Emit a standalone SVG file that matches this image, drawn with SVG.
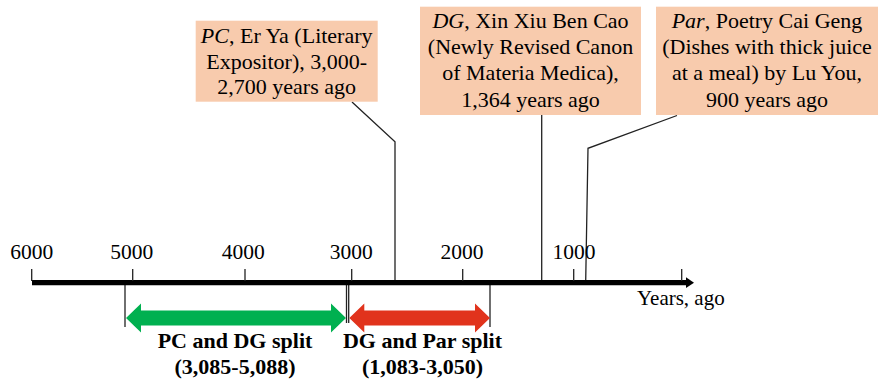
<svg xmlns="http://www.w3.org/2000/svg" width="878" height="383" viewBox="0 0 878 383">
<style>
text{font-family:"Liberation Serif","Times New Roman",serif;fill:#000}
.bt{font-size:22px;text-anchor:middle}
.ax{font-size:21.5px;text-anchor:middle}
.bl{font-size:22px;font-weight:bold;text-anchor:middle}
.box{fill:#F8CBAD}
.ln{stroke:#222;stroke-width:1.3;fill:none}
</style>
<rect width="878" height="383" fill="#fff"/>
<g id="connectors">
<polyline class="ln" points="352,102 395,141.7 395,281"/>
<line class="ln" x1="541.7" y1="115" x2="541.7" y2="281"/>
<polyline class="ln" points="677,115.5 588,148.3 585.7,281"/>
<line class="ln" x1="125" y1="283" x2="125" y2="327"/>
<line class="ln" x1="346.5" y1="283" x2="346.5" y2="323"/>
<line class="ln" x1="348.7" y1="283" x2="348.7" y2="323"/>
<line class="ln" x1="490" y1="283" x2="490" y2="327"/>
</g>
<g id="axis">
<line x1="32" y1="282.7" x2="688" y2="282.7" stroke="#000" stroke-width="5.3"/>
<polygon points="686,277.3 694,282.7 686,288.1" fill="#000"/>
<g class="ln">
<line x1="31.7" y1="269" x2="31.7" y2="281"/>
<line x1="132.7" y1="269" x2="132.7" y2="281"/>
<line x1="245" y1="269" x2="245" y2="281"/>
<line x1="351.7" y1="269" x2="351.7" y2="281"/>
<line x1="462.7" y1="269" x2="462.7" y2="281"/>
<line x1="573.7" y1="269" x2="573.7" y2="281"/>
<line x1="681.7" y1="269" x2="681.7" y2="281"/>
</g>
<text class="ax" x="31.7" y="259">6000</text>
<text class="ax" x="131.7" y="259">5000</text>
<text class="ax" x="243.3" y="259">4000</text>
<text class="ax" x="351.3" y="259">3000</text>
<text class="ax" x="462" y="259">2000</text>
<text class="ax" x="574" y="259">1000</text>
<text x="637" y="305" style="font-size:21px">Years, ago</text>
</g>
<g id="box-pc">
<rect class="box" x="195.7" y="20.7" width="182" height="81"/>
<text class="bt" x="286.7" y="42.7"><tspan font-style="italic">PC</tspan>, Er Ya (Literary</text>
<text class="bt" x="286.7" y="68.5">Expositor), 3,000-</text>
<text class="bt" x="286.7" y="94.3">2,700 years ago</text>
</g>
<g id="box-dg">
<rect class="box" x="420" y="6.7" width="221" height="108.3"/>
<text class="bt" x="530.5" y="27.6"><tspan font-style="italic">DG</tspan>, Xin Xiu Ben Cao</text>
<text class="bt" x="530.5" y="53.9">(Newly Revised Canon</text>
<text class="bt" x="530.5" y="80.2">of Materia Medica),</text>
<text class="bt" x="530.5" y="106.5">1,364 years ago</text>
</g>
<g id="box-par">
<rect class="box" x="656" y="6.7" width="222" height="108.3"/>
<text class="bt" x="767" y="27.6"><tspan font-style="italic">Par</tspan>, Poetry Cai Geng</text>
<text class="bt" x="767" y="53.9">(Dishes with thick juice</text>
<text class="bt" x="767" y="80.2">at a meal) by Lu You,</text>
<text class="bt" x="767" y="106.5">900 years ago</text>
</g>
<g id="pc-dg-split">
<polygon fill="#00B050" points="126,318 141,303.5 141,310.5 331,310.5 331,303.5 346,318 331,332.5 331,325.5 141,325.5 141,332.5"/>
<text class="bl" x="235" y="348.3">PC and DG split</text>
<text class="bl" x="235" y="373.5">(3,085-5,088)</text>
</g>
<g id="dg-par-split">
<polygon fill="#E1331C" points="349.3,318 364.3,303.5 364.3,310.5 475,310.5 475,303.5 490,318 475,332.5 475,325.5 364.3,325.5 364.3,332.5"/>
<text class="bl" x="422.5" y="348.3">DG and Par split</text>
<text class="bl" x="422.5" y="373.5">(1,083-3,050)</text>
</g>
</svg>
